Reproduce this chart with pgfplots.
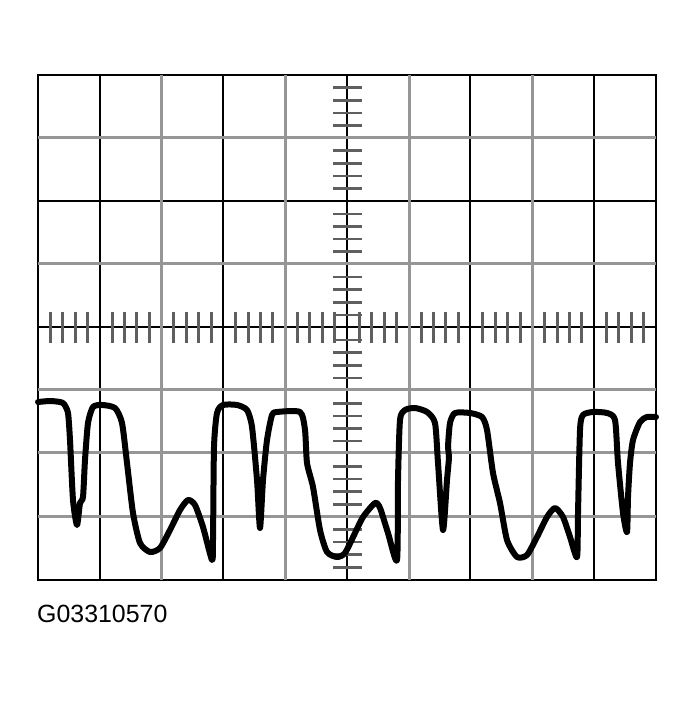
\documentclass[border=0pt]{standalone}
\usepackage{pgfplots}
\pgfplotsset{compat=1.18}
\usepackage{fontspec}
\setmainfont{Liberation Sans}
\definecolor{gridgray}{RGB}{150,150,150}
\definecolor{tickgray}{RGB}{95,95,95}
\begin{document}
\begin{tikzpicture}[x=1bp,y=1bp]
\path[use as bounding box] (0,0) rectangle (695,701);
\begin{axis}[
  at={(38bp,121bp)}, anchor=south west,
  scale only axis, width=618bp, height=505bp,
  xmin=38, xmax=656, ymin=75, ymax=580, y dir=reverse,
  axis line style={black, line width=2bp},
  xtick={100,223,347,470,594}, ytick={201,327},
  extra x ticks={161,285,409,532}, extra y ticks={138,264,390,453,516},
  xticklabels={}, yticklabels={},
  extra x tick labels={}, extra y tick labels={},
  major tick length=0pt,
  grid=major,
  major grid style={black, line width=2bp},
  extra tick style={grid=major, major grid style={gridgray, line width=3bp}},
  clip=false,
]
% minor ticks on centre lines
\pgfplotsinvokeforeach{1,2,3,4,6,7,8,9,11,12,13,14,16,17,18,19,21,22,23,24,26,27,28,29,31,32,33,34,36,37,38,39}{
  \draw[tickgray, line width=2.6bp] (axis cs:333,{75+12.625*#1}) -- (axis cs:362,{75+12.625*#1});
}
\pgfplotsinvokeforeach{1,2,3,4,6,7,8,9,11,12,13,14,16,17,18,19,21,22,23,24,26,27,28,29,31,32,33,34,36,37,38,39,41,42,43,44,46,47,48,49}{
  \draw[tickgray, line width=3bp] (axis cs:{38+12.36*#1},312) -- (axis cs:{38+12.36*#1},343);
}
\addplot[black, line width=6bp, line join=round, line cap=round, smooth, tension=0.4] coordinates {
(38,402) (50,401) (60,402) (64,404) (68,413) (70,440) (73,500) (77,525) (80,503) (83,497) (85,460) (88,423) (93,407) (102,405) (115,408) (122,423) (127,463) (133,513) (140,543) (150,552) (160,548) (170,530) (180,510) (188,500) (195,505) (203,527) (212,560) (213,540) (214,447) (217,413) (223,405) (237,405) (247,410) (252,427) (257,480) (260,528) (263,480) (267,440) (272,415) (277,412) (300,412) (305,430) (307,463) (313,487) (320,530) (327,552) (337,557) (345,553) (355,533) (363,517) (375,503) (380,508) (388,533) (397,560) (398,480) (400,420) (405,410) (415,408) (427,412) (435,423) (438,463) (443,530) (447,480) (449,457) (448,447) (450,423) (455,413) (470,413) (482,417) (487,430) (493,473) (500,503) (507,540) (517,557) (527,555) (537,537) (547,517) (555,508) (563,517) (570,537) (577,557) (578,513) (580,430) (583,415) (593,412) (607,413) (615,420) (618,463) (623,513) (627,532) (628,497) (630,463) (633,440) (640,422) (647,417) (656,417)
};
\end{axis}
\node[anchor=base west, inner sep=0pt, font=\fontsize{25}{28}\selectfont] at (37,78) {G03310570};
\end{tikzpicture}
\end{document}
